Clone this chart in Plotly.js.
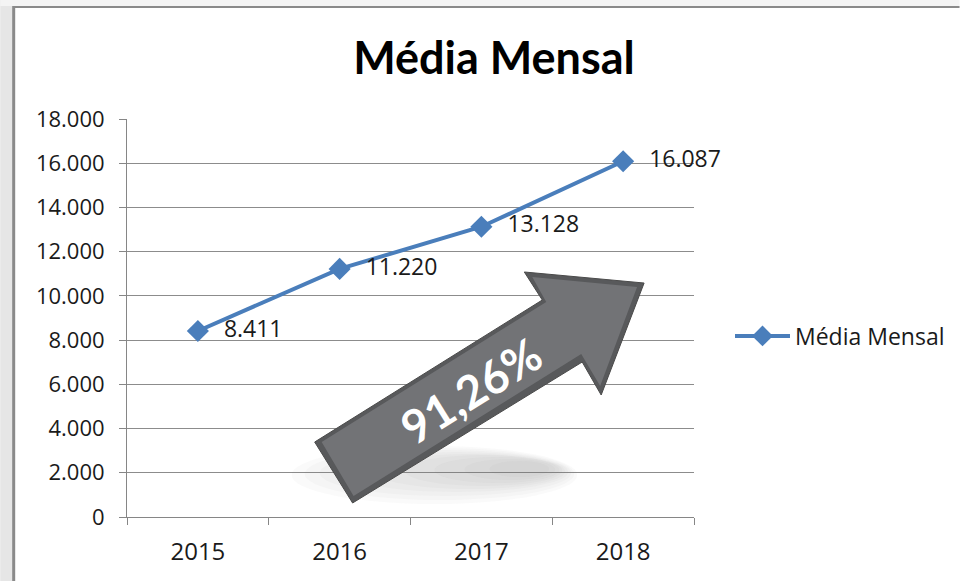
<!DOCTYPE html>
<html>
<head>
<meta charset="utf-8">
<script src="https://cdn.plot.ly/plotly-3.0.1.min.js"></script>
<style>html,body{margin:0;padding:0;background:#fff;}#chart{width:961px;height:581px;}</style>
</head>
<body>
<div id="chart"></div>
<script>
const categories = ["2015", "2016", "2017", "2018"];
const mediaMensal = [8411, 11220, 13128, 16087];
const seriesName = "Média Mensal";
const chartTitle = "Média Mensal";
const growthLabel = "91,26%";
const yTickVals = [0, 2000, 4000, 6000, 8000, 10000, 12000, 14000, 16000, 18000];

const W = 961, H = 581;
const M = {l: 127, r: 266, t: 119, b: 64};
const PW = W - M.l - M.r, PH = H - M.t - M.b;
// helpers for decorative shapes defined in pixel space
const px = x => (x - M.l) / PW;
const py = y => (H - M.b - y) / PH;
function pathFrom(pts) {
  return pts.map((p, i) => (i ? 'L' : 'M') + px(p[0]).toFixed(4) + ',' + py(p[1]).toFixed(4)).join(' ') + ' Z';
}
function rect(x0, y0, x1, y1, color) {
  return {type: 'rect', xref: 'paper', yref: 'paper', x0: px(x0), x1: px(x1), y0: py(y0), y1: py(y1),
          fillcolor: color, line: {width: 0}, layer: 'above'};
}
function ellipse(x0, y0, x1, y1, color) {
  return {type: 'circle', xref: 'paper', yref: 'paper', x0: px(x0), x1: px(x1), y0: py(y0), y1: py(y1),
          fillcolor: color, line: {width: 0}, layer: 'above'};
}

const trace = {
  x: categories, y: mediaMensal, name: seriesName, type: 'scatter', mode: 'lines+markers',
  line: {color: '#4a7ebb', width: 4},
  marker: {symbol: 'diamond', size: 17, color: '#4a7ebb'},
  hoverinfo: 'skip', cliponaxis: false
};
// data labels: text-only trace with an invisible, larger marker to push labels right
const labels = {
  x: categories, y: mediaMensal, type: 'scatter', mode: 'markers+text', showlegend: false,
  texttemplate: '%{y:,d}', textposition: 'middle right', cliponaxis: false,
  textfont: {family: 'Open Sans, sans-serif', size: 23, color: '#1a1a1a'},
  marker: {size: 40, color: 'rgba(0,0,0,0)'}, hoverinfo: 'skip'
};

const arrowPts = [[315, 442], [543, 300], [525, 272], [645, 283], [602, 395], [583, 362], [353, 503]];
const innerPts = [[322, 442], [547, 302], [533, 277], [638, 287], [601, 386], [582, 354], [354, 496]];

// soft shadow under the arrow
const shadowSteps = [
  [292, 446, 578, 504], [305, 448, 575, 500], [320, 450, 572, 496], [345, 452, 569, 492],
  [375, 454, 566, 489], [405, 455, 563, 486], [435, 457, 560, 483], [465, 459, 556, 480], [490, 461, 550, 477]
];
const shadowShapes = shadowSteps.map(s => ellipse(s[0], s[1], s[2], s[3], 'rgba(100,100,100,0.035)'));

const shapes = shadowShapes.concat([
  {type: 'path', xref: 'paper', yref: 'paper', path: pathFrom(arrowPts), fillcolor: '#58595b', line: {color: '#4a4a4a', width: 1}, layer: 'above'},
  {type: 'path', xref: 'paper', yref: 'paper', path: pathFrom(innerPts), fillcolor: '#727376', line: {width: 0}, layer: 'above'},
  // outer frame
  rect(0, 0, 13, H, '#e6e6e6'),
  rect(0, 0, W, 6, '#f4f4f4'),
  rect(13, 6, W, 8, '#8a8a8a'),
  rect(12, 6, 15, H, '#8a8a8a')
]);

const annotations = [{
  xref: 'paper', yref: 'paper', x: px(471), y: py(390), text: '<b>' + growthLabel + '</b>',
  showarrow: false, textangle: -32, xanchor: 'center', yanchor: 'middle',
  font: {family: 'Lato, sans-serif', size: 46, color: '#ffffff'}
}];

const layout = {
  width: W, height: H, margin: M,
  paper_bgcolor: '#ffffff', plot_bgcolor: '#ffffff',
  separators: ',.',
  title: {text: '<b>' + chartTitle + '</b>', x: 0.514, xanchor: 'center', y: 0.9, yanchor: 'middle',
          font: {family: 'Lato, sans-serif', size: 45, color: '#000000'}},
  xaxis: {type: 'category', range: [-0.5, 3.5], tickson: 'boundaries', ticks: 'outside', ticklen: 7,
          tickcolor: '#868686', showline: true, linecolor: '#868686', linewidth: 1, showgrid: false,
          tickfont: {family: 'Open Sans, sans-serif', size: 24, color: '#1a1a1a'},
          ticklabelstandoff: 13, fixedrange: true, zeroline: false},
  yaxis: {range: [0, 18000], tickvals: yTickVals, tickformat: ',d', ticks: 'outside', ticklen: 7,
          tickcolor: '#868686', showline: true, linecolor: '#868686', linewidth: 1,
          showgrid: true, gridcolor: '#8c8c8c', gridwidth: 1, zeroline: false,
          tickfont: {family: 'Open Sans, sans-serif', size: 22, color: '#1a1a1a'},
          ticklabelstandoff: 10, fixedrange: true},
  showlegend: true,
  legend: {x: px(730), y: py(336), xanchor: 'left', yanchor: 'middle', itemwidth: 55,
           font: {family: 'Open Sans, sans-serif', size: 23, color: '#1a1a1a'}, bgcolor: 'rgba(0,0,0,0)'},
  shapes: shapes,
  annotations: annotations
};

Plotly.newPlot('chart', [trace, labels], layout, {displayModeBar: false, staticPlot: true});
</script>
</body>
</html>
